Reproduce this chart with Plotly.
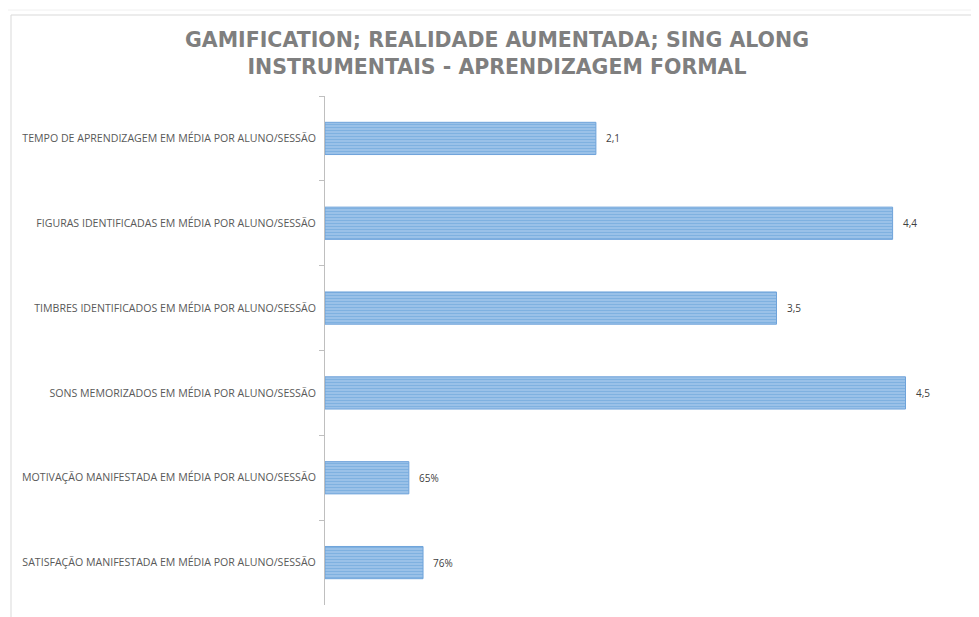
import plotly.graph_objects as go

categories = [
    "TEMPO DE APRENDIZAGEM EM MÉDIA POR ALUNO/SESSÃO",
    "FIGURAS IDENTIFICADAS EM MÉDIA POR ALUNO/SESSÃO",
    "TIMBRES IDENTIFICADOS EM MÉDIA POR ALUNO/SESSÃO",
    "SONS MEMORIZADOS EM MÉDIA POR ALUNO/SESSÃO",
    "MOTIVAÇÃO MANIFESTADA EM MÉDIA POR ALUNO/SESSÃO",
    "SATISFAÇÃO MANIFESTADA EM MÉDIA POR ALUNO/SESSÃO",
]
values = [2.1, 4.4, 3.5, 4.5, 0.65, 0.76]
value_labels = ["2,1", "4,4", "3,5", "4,5", "65%", "76%"]

title_text = "GAMIFICATION; REALIDADE AUMENTADA; SING ALONG<br>INSTRUMENTAIS - APRENDIZAGEM FORMAL"

# page is shown with an 8px body margin; figure sized to fit the window
W, H = 971, 609
L, T, B = 317, 88, 12
PW = 645
R = W - L - PW
PH = H - T - B

fig = go.Figure()
fig.add_trace(go.Bar(
    y=categories,
    x=values,
    orientation="h",
    marker=dict(
        color="#9DC3E6",
        line=dict(color="#6FA3DA", width=1),
        pattern=dict(shape="-", fgcolor="#5B9BD5", bgcolor="#A2C6EA", size=3, solidity=0.5),
    ),
    hoverinfo="skip",
))

annotations = [
    dict(x=v, y=c, xref="x", yref="y", text=t, showarrow=False,
         xanchor="left", xshift=8, yshift=0,
         font=dict(family="Open Sans", size=10, color="#404040"))
    for c, v, t in zip(categories, values, value_labels)
]

def px(xpix):
    return (xpix - 8 - L) / PW

def py(ypix):
    return 1 - (ypix - 8 - T) / PH

fig.update_layout(
    width=W, height=H,
    margin=dict(l=L, r=R, t=T, b=B),
    paper_bgcolor="white",
    plot_bgcolor="white",
    bargap=0.62,
    showlegend=False,
    annotations=annotations,
    title=dict(
        text=title_text,
        x=(497 - 8) / W, xanchor="center",
        y=1 - (47 - 8) / H, yanchor="middle",
        font=dict(family="DejaVu Sans", size=20.5, color="#7f7f7f", weight="bold"),
    ),
    xaxis=dict(
        range=[0, 5.0],
        visible=False,
        showgrid=False,
        zeroline=False,
    ),
    yaxis=dict(
        autorange="reversed",
        showline=True,
        linecolor="#bfbfbf",
        linewidth=1,
        ticks="outside",
        tickson="boundaries",
        ticklen=5,
        tickcolor="#bfbfbf",
        ticklabelstandoff=6,
        tickfont=dict(family="Open Sans", size=10.6, color="#595959"),
        showgrid=False,
    ),
    shapes=[
        dict(type="rect", xref="paper", yref="paper",
             x0=px(4), x1=px(1100), y0=py(700), y1=py(10),
             line=dict(color="#f0f0f0", width=1), fillcolor="rgba(0,0,0,0)", layer="below"),
        dict(type="rect", xref="paper", yref="paper",
             x0=px(11), x1=px(1100), y0=py(700), y1=py(15),
             line=dict(color="#d9d9d9", width=1), fillcolor="rgba(0,0,0,0)", layer="below"),
    ],
)

fig.write_html("out.html")
